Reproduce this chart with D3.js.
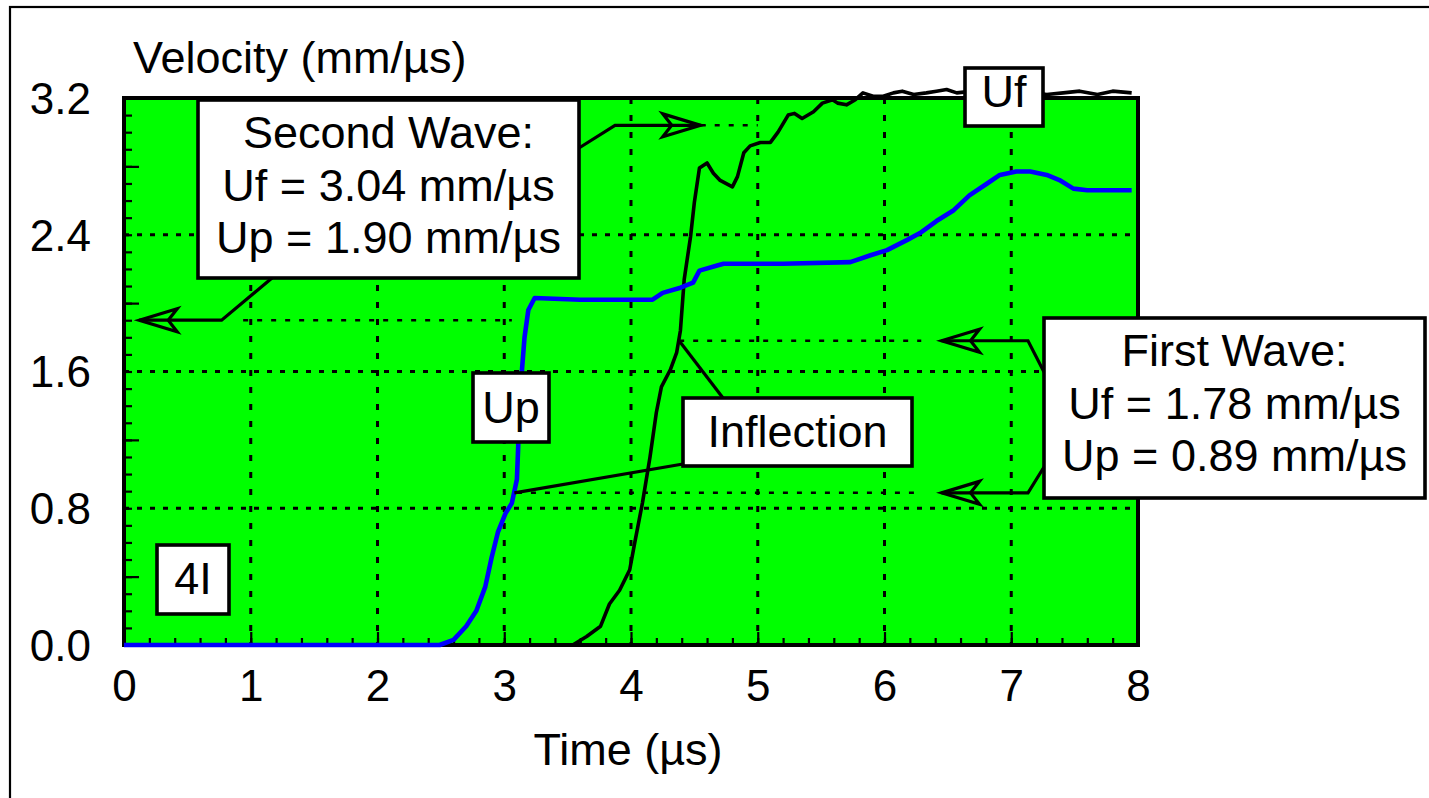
<!DOCTYPE html>
<html lang="en">
<head>
<meta charset="UTF-8">
<title>Velocity vs Time</title>
<script src="https://d3js.org/d3.v7.min.js"></script>
<style>
  body { margin: 0; background: #fff; }
  text { font-family: Arial, "Liberation Sans", sans-serif; fill: #000; }
</style>
</head>
<body>
<svg id="chart"></svg>
<script>
// particle velocity (blue) and free surface velocity (black)
const upTime = [0, 2.49, 2.60, 2.70, 2.78, 2.85, 2.90, 2.95, 3.01, 3.06, 3.10, 3.11, 3.12, 3.14, 3.16, 3.19, 3.24,
  3.60, 4.00, 4.17, 4.25, 4.39, 4.49, 4.54, 4.68, 4.73, 5.20, 5.73, 5.89, 6.02, 6.18, 6.28, 6.41, 6.54, 6.67,
  6.81, 6.91, 7.04, 7.15, 7.28, 7.38, 7.49, 7.60, 7.95];
const upVel = [0, 0, 0.03, 0.11, 0.20, 0.34, 0.51, 0.66, 0.77, 0.83, 0.97, 1.16, 1.42, 1.61, 1.80, 1.96, 2.03,
  2.02, 2.02, 2.02, 2.06, 2.09, 2.12, 2.19, 2.22, 2.23, 2.23, 2.24, 2.28, 2.31, 2.37, 2.41, 2.48, 2.54, 2.63,
  2.70, 2.75, 2.77, 2.77, 2.75, 2.72, 2.67, 2.66, 2.66];

const ufTime = [0, 3.54, 3.65, 3.76, 3.83, 3.91, 3.99, 4.03, 4.09, 4.15, 4.20, 4.24, 4.31, 4.36, 4.39, 4.42,
  4.47, 4.50, 4.54, 4.60, 4.65, 4.70, 4.80, 4.84, 4.89, 4.94, 5.02, 5.10, 5.16, 5.24, 5.29, 5.35, 5.44, 5.51,
  5.59, 5.63, 5.70, 5.77, 5.83, 5.91, 5.99, 6.07, 6.14, 6.23, 6.33, 6.41, 6.49, 6.57, 6.70, 6.90, 7.10, 7.28,
  7.41, 7.54, 7.68, 7.80, 7.95];
const ufVel = [0, 0, 0.05, 0.11, 0.24, 0.32, 0.44, 0.60, 0.83, 1.10, 1.36, 1.51, 1.61, 1.71, 1.84, 2.14,
  2.39, 2.59, 2.79, 2.82, 2.76, 2.72, 2.68, 2.74, 2.88, 2.92, 2.94, 2.94, 3.00, 3.10, 3.11, 3.08, 3.12, 3.17,
  3.19, 3.17, 3.16, 3.19, 3.23, 3.21, 3.21, 3.23, 3.24, 3.22, 3.23, 3.24, 3.25, 3.23, 3.24, 3.23, 3.24, 3.22,
  3.23, 3.24, 3.22, 3.24, 3.23];

const xTickLabels = [0, 1, 2, 3, 4, 5, 6, 7, 8];
const yTickLabels = [0.0, 0.8, 1.6, 2.4, 3.2];

const secondWave = { uf: 3.04, up: 1.90 };
const firstWave = { uf: 1.78, up: 0.89 };

const W = 1429, H = 798;
const pLeft = 124, pRight = 1138, pTop = 98, pBottom = 645;

const svg = d3.select("#chart").attr("width", W).attr("height", H);

const x = d3.scaleLinear().domain([0, 8]).range([pLeft, pRight]);
const y = d3.scaleLinear().domain([0, 3.2]).range([pBottom, pTop]);

// outer frame (runs off the right and bottom of the page)
svg.append("rect").attr("x", 10).attr("y", 7).attr("width", 1600).attr("height", 1000)
  .attr("fill", "none").attr("stroke", "#000").attr("stroke-width", 2.2);

svg.append("rect").attr("x", pLeft).attr("y", pTop)
  .attr("width", pRight - pLeft).attr("height", pBottom - pTop).attr("fill", "#00ff00");

// grid
svg.append("g").selectAll("line").data(d3.range(1, 8)).join("line")
  .attr("x1", d => x(d)).attr("x2", d => x(d)).attr("y1", pTop).attr("y2", pBottom)
  .attr("stroke", "#000").attr("stroke-width", 3).attr("stroke-dasharray", "6,11");
svg.append("g").selectAll("line").data([0.8, 1.6, 2.4]).join("line")
  .attr("x1", pLeft).attr("x2", pRight).attr("y1", d => y(d)).attr("y2", d => y(d))
  .attr("stroke", "#000").attr("stroke-width", 3).attr("stroke-dasharray", "5,8");

// guide lines for the wave values
const guides = [
  { v: secondWave.up, t0: 0.94, t1: 3.06 },
  { v: secondWave.uf, t0: 4.55, t1: 5.0 },
  { v: firstWave.uf, t0: 4.38, t1: 6.29 },
  { v: firstWave.up, t0: 3.10, t1: 6.29 }
];
svg.append("g").selectAll("line").data(guides).join("line")
  .attr("x1", d => x(d.t0)).attr("x2", d => x(d.t1)).attr("y1", d => y(d.v)).attr("y2", d => y(d.v))
  .attr("stroke", "#000").attr("stroke-width", 2.5).attr("stroke-dasharray", "5,9");

// ticks, pointing into the plot
const yMinor = d3.range(0, 33).map(i => i / 10);
svg.append("g").attr("transform", `translate(${pLeft},0)`)
  .call(d3.axisLeft(y).tickValues(yMinor).tickSize(-8).tickFormat(""))
  .call(g => g.select(".domain").remove());
svg.append("g").attr("transform", `translate(${pLeft},0)`)
  .call(d3.axisLeft(y).tickValues([0.4, 1.2, 2.0, 2.8]).tickSize(-15).tickFormat(""))
  .call(g => g.select(".domain").remove());
svg.append("g").attr("transform", `translate(${pLeft},0)`)
  .call(d3.axisLeft(y).tickValues(yTickLabels).tickSize(0).tickPadding(33).tickFormat(d3.format(".1f")))
  .call(g => g.select(".domain").remove())
  .call(g => g.selectAll("text").attr("font-size", 44).attr("dy", "0.35em"));

const xMinor = d3.range(0, 41).map(i => i / 5);
svg.append("g").attr("transform", `translate(0,${pBottom})`)
  .call(d3.axisBottom(x).tickValues(xMinor).tickSize(-7).tickFormat(""))
  .call(g => g.select(".domain").remove());
svg.append("g").attr("transform", `translate(0,${pBottom})`)
  .call(d3.axisBottom(x).tickValues(xTickLabels).tickSize(-13).tickFormat(""))
  .call(g => g.select(".domain").remove());
svg.append("g").attr("transform", `translate(0,${pBottom})`)
  .call(d3.axisBottom(x).tickValues(xTickLabels).tickSize(0).tickPadding(25).tickFormat(d3.format("d")))
  .call(g => g.select(".domain").remove())
  .call(g => g.selectAll("text").attr("font-size", 44));

svg.selectAll(".tick line").attr("stroke", "#000").attr("stroke-width", 2.2);

svg.append("rect").attr("x", pLeft).attr("y", pTop)
  .attr("width", pRight - pLeft).attr("height", pBottom - pTop)
  .attr("fill", "none").attr("stroke", "#000").attr("stroke-width", 4);

// curves
const line = d3.line().x(d => x(d[0])).y(d => y(d[1]));
svg.append("path").datum(ufTime.map((t, i) => [t, ufVel[i]]))
  .attr("d", line).attr("fill", "none").attr("stroke", "#000").attr("stroke-width", 3.6)
  .attr("stroke-linejoin", "round");
svg.append("path").datum(upTime.map((t, i) => [t, upVel[i]]))
  .attr("d", line).attr("fill", "none").attr("stroke", "#0000ff").attr("stroke-width", 4.6)
  .attr("stroke-linejoin", "round");

// axis titles
svg.append("text").attr("x", 133).attr("y", 73).attr("font-size", 45).text("Velocity (mm/µs)");
svg.append("text").attr("x", 628).attr("y", 765).attr("font-size", 45)
  .attr("text-anchor", "middle").text("Time (µs)");

// leader lines and arrows
const lead = g => g.attr("fill", "none").attr("stroke", "#000").attr("stroke-width", 3.2)
  .attr("stroke-linejoin", "miter");
function arrowHead(tx, ty, dir) {
  const L = 38, Wd = 11.5, N = 29;
  return [[tx, ty], [tx - dir * L, ty - Wd], [tx - dir * N, ty], [tx - dir * L, ty + Wd]];
}
const leaders = [
  [[272, 278], [x(0.77), y(secondWave.up)], [x(0.12), y(secondWave.up)]],
  [[579, 148], [615, y(secondWave.uf)], [x(4.55), y(secondWave.uf)]],
  [[1044, 372], [1028, y(firstWave.uf)], [x(6.45), y(firstWave.uf)]],
  [[1044, 467], [1028, y(firstWave.up)], [x(6.45), y(firstWave.up)]],
  [[x(3.08), y(firstWave.up)], [683, 464]],
  [[x(4.38), y(firstWave.uf)], [723, 398]]
];
svg.append("g").selectAll("path").data(leaders).join("path")
  .attr("d", d => d3.line()(d)).call(lead);
const heads = [
  arrowHead(x(0.12), y(secondWave.up), -1),
  arrowHead(x(4.55), y(secondWave.uf), 1),
  arrowHead(x(6.45), y(firstWave.uf), -1),
  arrowHead(x(6.45), y(firstWave.up), -1)
];
svg.append("g").selectAll("path").data(heads).join("path")
  .attr("d", d => d3.line()(d) + "Z").call(lead);

// label boxes
const boxes = [
  { x0: 198, y0: 100, x1: 579, y1: 278, lines: ["Second Wave:", `Uf = ${secondWave.uf.toFixed(2)} mm/µs`, `Up = ${secondWave.up.toFixed(2)} mm/µs`], base: 148 },
  { x0: 1044, y0: 318, x1: 1425, y1: 498, lines: ["First Wave:", `Uf = ${firstWave.uf.toFixed(2)} mm/µs`, `Up = ${firstWave.up.toFixed(2)} mm/µs`], base: 366 },
  { x0: 965, y0: 68, x1: 1043, y1: 126, lines: ["Uf"], base: 107 },
  { x0: 473, y0: 373, x1: 549, y1: 442, lines: ["Up"], base: 423 },
  { x0: 683, y0: 398, x1: 912, y1: 466, lines: ["Inflection"], base: 447 },
  { x0: 157, y0: 545, x1: 229, y1: 614, lines: ["4I"], base: 594 }
];
const bg = svg.append("g").selectAll("g").data(boxes).join("g");
bg.append("rect").attr("x", d => d.x0).attr("y", d => d.y0)
  .attr("width", d => d.x1 - d.x0).attr("height", d => d.y1 - d.y0)
  .attr("fill", "#fff").attr("stroke", "#000").attr("stroke-width", 3.6);
bg.each(function (d) {
  d3.select(this).selectAll("text").data(d.lines).join("text")
    .attr("x", (d.x0 + d.x1) / 2).attr("y", (s, i) => d.base + i * 52.5)
    .attr("text-anchor", "middle").attr("font-size", 45).text(s => s);
});
</script>
</body>
</html>
